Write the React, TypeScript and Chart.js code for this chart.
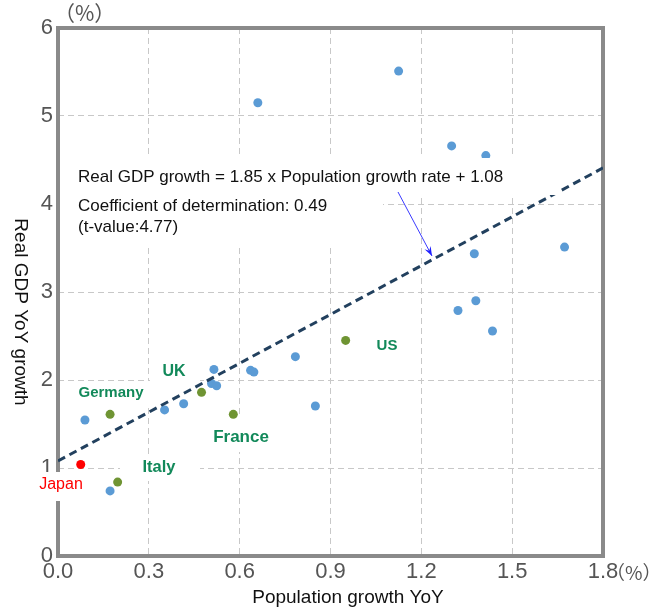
import React, { useEffect, useRef } from "react";
import { Chart, registerables } from "chart.js";

Chart.register(...registerables);

// Other countries (blue)
const otherX = [1.125, 0.66, 1.3, 1.413, 1.673, 1.375, 1.38, 1.321, 1.435, 0.784, 0.515, 0.636, 0.647, 0.507, 0.524, 0.85, 0.415, 0.352, 0.089, 0.172];
const otherY = [5.51, 5.15, 4.66, 4.55, 3.51, 3.435, 2.9, 2.79, 2.557, 2.265, 2.12, 2.11, 2.09, 1.96, 1.935, 1.705, 1.73, 1.66, 1.545, 0.74];

// G7 excluding Japan (green)
const g7Names = ["US", "UK", "France", "Germany", "Italy"];
const g7X = [0.95, 0.474, 0.579, 0.172, 0.197];
const g7Y = [2.45, 1.86, 1.61, 1.61, 0.84];

// Japan (red)
const japanX = [0.075];
const japanY = [1.04];

// Regression
const slope = 1.85;
const intercept = 1.08;
const regX = [0, 1.8];

const xTicks = [0, 0.3, 0.6, 0.9, 1.2, 1.5, 1.8];
const yTicks = [0, 1, 2, 3, 4, 5, 6];

const eqLines = [
  "Real GDP growth = 1.85 x Population growth rate + 1.08",
  "Coefficient of determination: 0.49",
  "(t-value:4.77)",
];

const xTitle = "Population growth YoY";
const yTitle = "Real GDP YoY growth";
const unitLabel = "（%）";

export default function App() {
  const ref = useRef<HTMLCanvasElement>(null);
  useEffect(() => {
    if (!ref.current) return;
    const tickFont = { family: "'Liberation Sans', Arial", size: 22 };

    const labelDefs = [
      { text: "UK", px: 174, py: 372, color: "#12895a", bold: true, size: 16, box: [150, 358, 200, 383] },
      { text: "Germany", px: 111, py: 393, color: "#12895a", bold: true, size: 15, box: [60, 381, 180, 408] },
      { text: "France", px: 241, py: 437, color: "#12895a", bold: true, size: 17, box: [205, 418, 277, 452] },
      { text: "Italy", px: 159, py: 467, color: "#12895a", bold: true, size: 16.5, box: [120, 455, 200, 481] },
      { text: "Japan", px: 61, py: 485, color: "#ff0000", bold: false, size: 16, box: [36, 472, 100, 501] },
      { text: "US", px: 387, py: 346, color: "#12895a", bold: true, size: 15, box: [362, 332, 410, 360] },
    ];

    const overlay = {
      id: "overlay",
      beforeDatasetsDraw(chart: any) {
        const ctx = chart.ctx;
        const a = chart.chartArea;
        ctx.save();
        // frame
        ctx.strokeStyle = "#8a8a8a";
        ctx.lineWidth = 4;
        ctx.strokeRect(a.left, a.top, a.right - a.left, a.bottom - a.top);
        // label background boxes
        ctx.fillStyle = "#ffffff";
        for (const l of labelDefs) {
          const [x1, y1, x2, y2] = l.box;
          ctx.fillRect(x1, y1, x2 - x1, y2 - y1);
        }
        // second/third equation lines box
        ctx.fillRect(60, 194, 323, 52);
        ctx.restore();
      },
      afterDatasetsDraw(chart: any) {
        const ctx = chart.ctx;
        const a = chart.chartArea;
        const xs = chart.scales.x;
        ctx.save();
        // first equation box
        ctx.fillStyle = "#ffffff";
        ctx.fillRect(60, 158, 498, 37);
        // labels
        ctx.textAlign = "center";
        ctx.textBaseline = "middle";
        for (const l of labelDefs) {
          ctx.fillStyle = l.color;
          ctx.font = `${l.bold ? "bold " : ""}${l.size}px 'Liberation Sans', Arial`;
          ctx.fillText(l.text, l.px, l.py);
        }
        // equation text
        ctx.textAlign = "left";
        ctx.fillStyle = "#111111";
        ctx.font = "17px 'Liberation Sans', Arial";
        ctx.fillText(eqLines[0], 78, 177);
        ctx.fillText(eqLines[1], 78, 206);
        ctx.fillText(eqLines[2], 78, 227);
        // arrow
        const x0 = 398, y0 = 192, x1 = 432, y1 = 256;
        ctx.strokeStyle = "#3a3aff";
        ctx.fillStyle = "#2020ff";
        ctx.lineWidth = 1;
        ctx.beginPath();
        ctx.moveTo(x0, y0);
        ctx.lineTo(x1, y1);
        ctx.stroke();
        const ang = Math.atan2(y1 - y0, x1 - x0);
        const hl = 10;
        ctx.beginPath();
        ctx.moveTo(x1, y1);
        ctx.lineTo(x1 - hl * Math.cos(ang - 0.35), y1 - hl * Math.sin(ang - 0.35));
        ctx.lineTo(x1 - hl * 0.6 * Math.cos(ang), y1 - hl * 0.6 * Math.sin(ang));
        ctx.lineTo(x1 - hl * Math.cos(ang + 0.35), y1 - hl * Math.sin(ang + 0.35));
        ctx.closePath();
        ctx.fill();
        // (%) units
        ctx.fillStyle = "#555555";
        ctx.textAlign = "left";
        ctx.textBaseline = "middle";
        ctx.font = "21px 'Noto Sans CJK JP', sans-serif";
        ctx.fillText(unitLabel, a.left - 4, a.top - 15);
        ctx.font = "19px 'Noto Sans CJK JP', sans-serif";
        ctx.fillText(unitLabel, xs.getPixelForValue(1.8) + 3, a.bottom + 17);
        // axis titles
        ctx.fillStyle = "#111111";
        ctx.font = "19px 'Liberation Sans', Arial";
        ctx.textAlign = "center";
        ctx.fillText(xTitle, 348, 598);
        ctx.save();
        ctx.translate(20, 312);
        ctx.rotate(Math.PI / 2);
        ctx.fillText(yTitle, 0, 0);
        ctx.restore();
        ctx.restore();
      },
    };

    const chart = new Chart(ref.current, {
      type: "scatter",
      data: {
        datasets: [
          {
            type: "line",
            data: regX.map((x) => ({ x, y: slope * x + intercept })),
            borderColor: "#22405e",
            borderWidth: 3,
            borderDash: [8, 5],
            pointRadius: 0,
            fill: false,
            order: 0,
          } as any,
          {
            data: japanX.map((x, i) => ({ x, y: japanY[i] })),
            backgroundColor: "#ff0000",
            borderWidth: 0,
            pointRadius: 4.5,
            order: 1,
          },
          {
            data: g7X.map((x, i) => ({ x, y: g7Y[i], name: g7Names[i] })),
            backgroundColor: "#6f9433",
            borderWidth: 0,
            pointRadius: 4.5,
            order: 1,
          },
          {
            data: otherX.map((x, i) => ({ x, y: otherY[i] })),
            backgroundColor: "#5b9bd5",
            borderWidth: 0,
            pointRadius: 4.5,
            order: 2,
          },
        ],
      },
      options: {
        animation: false,
        responsive: false,
        layout: { padding: { top: 28, right: 49, left: 0, bottom: 0 } },
        plugins: { legend: { display: false }, tooltip: { enabled: false } },
        scales: {
          x: {
            type: "linear",
            min: 0,
            max: 1.8,
            afterFit(s: any) {
              s.height = 53;
            },
            afterBuildTicks(s: any) {
              s.ticks = xTicks.map((v) => ({ value: v }));
            },
            ticks: {
              font: tickFont,
              color: "#555555",
              padding: 3,
              maxRotation: 0,
              callback: (v: any) => Number(v).toFixed(1),
            },
            grid: { color: "#c8c8c8", drawTicks: false, lineWidth: 1 },
            border: { display: false, dash: [6, 4] },
          },
          y: {
            type: "linear",
            min: 0,
            max: 6,
            afterFit(s: any) {
              s.width = 58;
            },
            afterBuildTicks(s: any) {
              s.ticks = yTicks.map((v) => ({ value: v }));
            },
            ticks: {
              font: tickFont,
              color: "#555555",
              padding: 5,
              callback: (v: any) => String(v),
            },
            grid: { color: "#c8c8c8", drawTicks: false, lineWidth: 1 },
            border: { display: false, dash: [6, 4] },
          },
        },
      },
      plugins: [overlay],
    });
    return () => chart.destroy();
  }, []);

  return (
    <div style={{ position: "fixed", left: 0, top: 0, width: 652, height: 609, background: "#fff" }}>
      <canvas ref={ref} width={652} height={609} style={{ width: 652, height: 609 }} />
    </div>
  );
}
